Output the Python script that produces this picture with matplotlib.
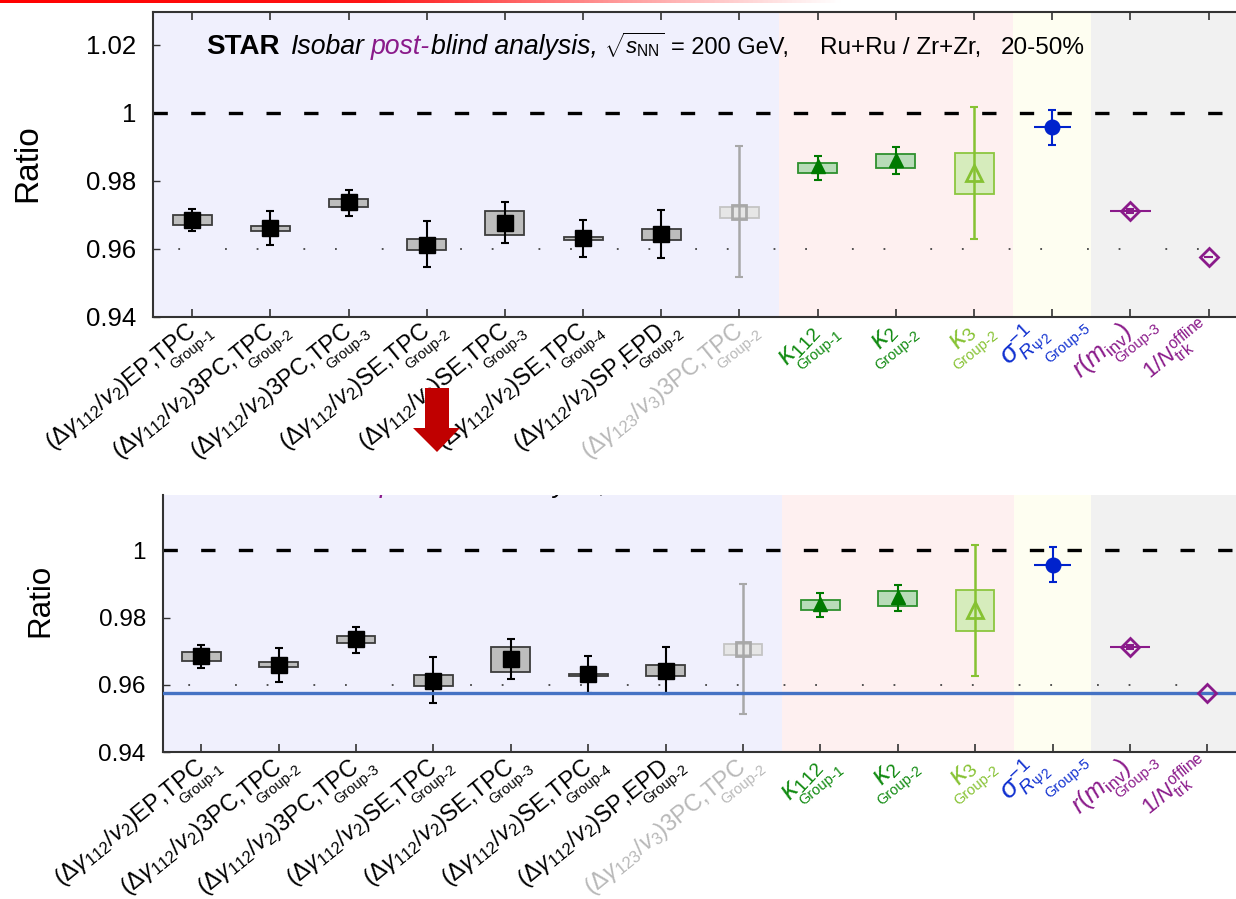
import numpy as np
import matplotlib
matplotlib.use('Agg')
import matplotlib.pyplot as plt
from matplotlib.patches import Rectangle, Polygon
from matplotlib.colors import LinearSegmentedColormap
from matplotlib.transforms import ScaledTranslation

plt.rcParams['font.family'] = ['Liberation Sans', 'DejaVu Sans']
plt.rcParams['mathtext.fontset'] = 'custom'
plt.rcParams['mathtext.rm'] = 'Liberation Sans'
plt.rcParams['mathtext.it'] = 'Liberation Sans:italic'
plt.rcParams['mathtext.bf'] = 'Liberation Sans:bold'

# ---- data (ratio Ru+Ru / Zr+Zr, 20-50%) ----
xlabels = [
    r'$(\Delta\gamma_{112}/v_2)$EP,TPC',
    r'$(\Delta\gamma_{112}/v_2)$3PC,TPC',
    r'$(\Delta\gamma_{112}/v_2)$3PC,TPC',
    r'$(\Delta\gamma_{112}/v_2)$SE,TPC',
    r'$(\Delta\gamma_{112}/v_2)$SE,TPC',
    r'$(\Delta\gamma_{112}/v_2)$SE,TPC',
    r'$(\Delta\gamma_{112}/v_2)$SP,EPD',
    r'$(\Delta\gamma_{123}/v_3)$3PC,TPC',
    r'$\kappa_{112}$',
    r'$\kappa_{2}$',
    r'$\kappa_{3}$',
    r'$\sigma^{-1}_{R_{\Psi2}}$',
    r'$r(m_{\rm inv})$',
    r'$1/N^{\rm offline}_{\rm trk}$',
]
groups = ['Group-1', 'Group-2', 'Group-3', 'Group-2', 'Group-3', 'Group-4', 'Group-2',
          'Group-2', 'Group-1', 'Group-2', 'Group-2', 'Group-5', 'Group-3', '']
centers = [0.9685, 0.9660, 0.9736, 0.9612, 0.9676, 0.9632, 0.9642,
           0.9708, 0.9842, 0.9862, 0.9823, 0.9958, 0.9712, 0.9576]
stat_lo = [0.9651, 0.9610, 0.9695, 0.9545, 0.9617, 0.9576, 0.9572,
           0.9515, 0.9803, 0.9820, 0.9627, 0.9906, 0.9706, 0.9576]
stat_hi = [0.9718, 0.9710, 0.9773, 0.9682, 0.9736, 0.9685, 0.9713,
           0.9901, 0.9873, 0.9898, 1.0016, 1.0009, 0.9718, 0.9576]
sys_lo = [0.9670, 0.9652, 0.9724, 0.9596, 0.9640, 0.9626, 0.9626,
          0.9690, 0.9824, 0.9836, 0.9760, np.nan, np.nan, np.nan]
sys_hi = [0.9699, 0.9668, 0.9745, 0.9629, 0.9712, 0.9634, 0.9658,
          0.9723, 0.9852, 0.9880, 0.9883, np.nan, np.nan, np.nan]
blind_line = 0.9575

# ---- styles ----
BLK, GRY, GRN, LGR, BLU, PUR = '#000000', '#A8A8A8', '#108A10', '#86C232', '#1030D0', '#8A1A8A'
label_colors = [BLK] * 7 + ['#B8B8B8', GRN, GRN, LGR, BLU, PUR, PUR]
label_fs = [17] * 8 + [20, 20, 20, 20, 18, 16]
label_rot = [39] * 8 + [47, 47, 47, 43, 41, 39]
# pixel offsets (right, down) of the label end and of the group tag end from the tick
main_off = [(5, 17)] * 8 + [(2, 15), (2, 15), (2, 15), (-6, 15), (2, 17), (3, 14)]
group_off = [(24, 19)] * 8 + [(25, 20), (25, 20), (25, 20), (39, 13), (31, 13), (0, 0)]
mk = ['s'] * 7 + ['s', '^', '^', '^', 'o', 'D', 'D']
mfill = [True] * 7 + [False, True, True, False, True, False, False]
mcol = [BLK] * 7 + [GRY, '#007A00', '#007A00', LGR, '#0022CC', PUR, PUR]
msz = [11.5] * 7 + [10, 10.5, 10.5, 11.5, 10.5, 9, 9.5]
box_fc = ['#BDBDBD'] * 7 + ['#E6E6E6', '#B8DCB8', '#B8DCB8', '#D6ECBC', 'none', 'none', 'none']
box_ec = ['#3C3C3C'] * 7 + ['#C4C4C4', '#2E902E', '#2E902E', '#8CC63F', 'none', 'none', 'none']
xerr = [None] * 11 + [0.24, 0.26, 0.06]

bands = [(-0.5, 7.5), (7.5, 10.5), (10.5, 11.5), (11.5, 13.5)]
band_colors = ['#F0F0FD', '#FEF0F0', '#FEFEF1', '#F1F1F1']

W, H = 1236., 899.
fig = plt.figure(figsize=(W / 100, H / 100), dpi=100)


def px_axes(l, t, r, b):
    return fig.add_axes([l / W, 1 - b / H, (r - l) / W, (b - t) / H])


def shift(dx, dy):
    # offset in pixels (dpi 100), dy positive = down
    return ScaledTranslation(dx / 100., -dy / 100., fig.dpi_scale_trans)


title_pieces = [
    ('STAR', dict(fontweight='bold', fontsize=20), 11),
    ('Isobar', dict(fontstyle='italic', fontsize=19.2), 6),
    ('post-', dict(fontstyle='italic', color=PUR, fontsize=19.2), 1),
    ('blind analysis,', dict(fontstyle='italic', fontsize=19.2), 6),
    (r'$\sqrt{s_{\rm NN}}$', dict(fontsize=16), 7),
    ('= 200 GeV,', dict(fontsize=17), 31),
    ('Ru+Ru / Zr+Zr,', dict(fontsize=17.5), 20),
    ('20-50%', dict(fontsize=17.5), 0),
]


def put_title(ax, x0, y0, clip):
    r = fig.canvas.get_renderer()
    cur, ybase = ax.transData.transform((x0, y0))
    inv = ax.transData.inverted()
    for txt, kw, gap in title_pieces:
        xd, yd = inv.transform((cur, ybase))
        t = ax.text(xd, yd, txt, ha='left', va='baseline', clip_on=clip, zorder=6, **kw)
        bb = t.get_window_extent(r)
        cur = bb.x1 + gap


def draw_panel(ax, ytop, fs_tick, show_top):
    n = len(centers)
    x = np.arange(n)
    ax.set_xlim(-0.5, 13.5)
    ax.set_ylim(0.94, ytop)
    for (a, b), c in zip(bands, band_colors):
        ax.axvspan(a, b, color=c, lw=0, zorder=0)
    ax.axhline(1.0, color='k', lw=2.4, dashes=(4.3, 7), zorder=2)
    ax.axhline(0.96, color='#444444', lw=1.3, linestyle=(29.4, (1, 24.9, 1, 16.5)), zorder=1)

    for i in range(n):
        if not np.isnan(sys_lo[i]):
            ax.add_patch(Rectangle((x[i] - 0.25, sys_lo[i]), 0.5, sys_hi[i] - sys_lo[i],
                                   fc=box_fc[i], ec=box_ec[i], lw=1.3, zorder=3))
        if stat_hi[i] > stat_lo[i]:
            yerr = [[centers[i] - stat_lo[i]], [stat_hi[i] - centers[i]]]
            ax.errorbar(x[i], centers[i], yerr=yerr, fmt='none', ecolor=mcol[i],
                        elinewidth=1.8 if i in (7, 10) else 1.5,
                        capsize=3, capthick=1.5, zorder=4)
        if xerr[i] is not None:
            ax.errorbar(x[i], centers[i], xerr=xerr[i], fmt='none', ecolor=mcol[i],
                        elinewidth=1.5, capsize=0, zorder=4)
        ax.plot(x[i], centers[i], marker=mk[i], ms=msz[i], ls='none',
                mfc=mcol[i] if mfill[i] else 'none', mec=mcol[i],
                mew=2 if not mfill[i] else 1, zorder=5)

    ax.set_xticks(x)
    ax.set_xticklabels([''] * n)
    ax.tick_params(axis='x', direction='in', length=6, width=1.2, top=show_top,
                   color='#333333')
    yt = [0.94, 0.96, 0.98, 1.0, 1.02]
    ax.set_yticks([v for v in yt if v <= ytop])
    ax.set_yticklabels(['%g' % v for v in yt if v <= ytop])
    ax.tick_params(axis='y', direction='in', length=5, width=1.0, pad=12,
                   labelsize=fs_tick, color='#333333')
    for s in ['left', 'bottom', 'top']:
        ax.spines[s].set_color('#333333')
        ax.spines[s].set_linewidth(1.5)
    ax.spines['right'].set_visible(False)
    ax.spines['top'].set_visible(show_top)

    base = ax.get_xaxis_transform()
    for i in range(n):
        ax.text(x[i], 0, xlabels[i], transform=base + shift(*main_off[i]),
                rotation=label_rot[i], rotation_mode='anchor', ha='right', va='baseline',
                color=label_colors[i], fontsize=label_fs[i])
        if groups[i]:
            ax.text(x[i], 0, groups[i], transform=base + shift(*group_off[i]),
                    rotation=39, rotation_mode='anchor', ha='right', va='baseline',
                    color=label_colors[i], fontsize=10.5)


ax1 = px_axes(153, 12, 1247.8, 316.5)
draw_panel(ax1, 1.0297, 18.5, True)
put_title(ax1, 0.18, 1.0173, False)

ax2 = px_axes(162.5, 494.5, 1246, 752.3)
draw_panel(ax2, 1.0166, 17.5, False)
ax2.axhline(blind_line, color='#4472C4', lw=2.4, zorder=4.5)
put_title(ax2, 0.18, 1.0173, True)

fig.text(28 / W, 1 - 163 / H, 'Ratio', rotation=90, fontsize=24, ha='center', va='center')
fig.text(40 / W, 1 - 600 / H, 'Ratio', rotation=90, fontsize=22.5, ha='center', va='center')

# red gradient line at the very top of the slide
axr = fig.add_axes([0, 1 - 3 / H, 1, 3 / H])
axr.axis('off')
cmap = LinearSegmentedColormap.from_list(
    'topbar', [(0, '#FF0000'), (0.3, '#FF1515'), (0.5, '#FF9A9A'), (0.68, '#FFFFFF'), (1, '#FFFFFF')])
axr.imshow(np.linspace(0, 1, 512)[None, :], aspect='auto', cmap=cmap, extent=[0, 1, 0, 1])

# red down arrow between the panels
arrow_px = [(425, 388), (449, 388), (449, 428), (460, 428), (437, 452), (413, 428), (425, 428)]
fig.add_artist(Polygon([(px / W, 1 - py / H) for px, py in arrow_px], closed=True,
                       transform=fig.transFigure, fc='#C00000', ec='none', zorder=10))

fig.savefig('out.png', dpi=100)
